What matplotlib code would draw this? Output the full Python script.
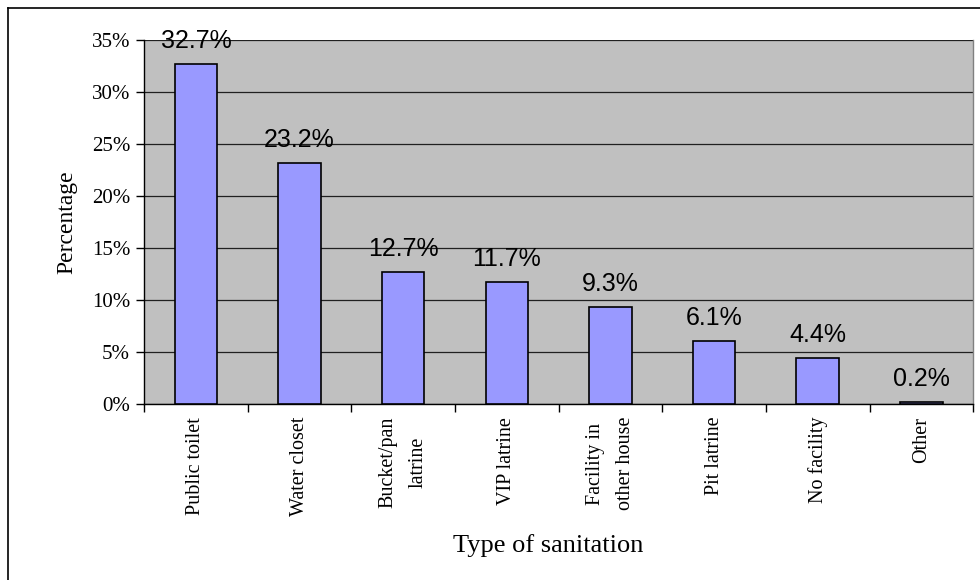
import matplotlib.pyplot as plt
from matplotlib.ticker import FuncFormatter, FixedLocator
from matplotlib.lines import Line2D

# dados
categorias = ['Public toilet', 'Water closet', 'Bucket/pan\nlatrine', 'VIP latrine',
              'Facility in\nother house', 'Pit latrine', 'No facility', 'Other']
percentuais = [32.7, 23.2, 12.7, 11.7, 9.3, 6.1, 4.4, 0.2]
rotulos = ['32.7%', '23.2%', '12.7%', '11.7%', '9.3%', '6.1%', '4.4%', '0.2%']
y_ticks = [0, 5, 10, 15, 20, 25, 30, 35]

serif = 'Liberation Serif'
sans = 'Liberation Sans'

fig = plt.figure(figsize=(9.8, 5.8), dpi=100)
ax = fig.add_axes([0.147, 0.303, 0.846, 0.628])
ax.set_facecolor('#C0C0C0')

x = range(len(categorias))
barras = ax.bar(x, percentuais, width=0.41, color='#9999FF', edgecolor='black',
                linewidth=1.2, zorder=3)

# rótulos de valor acima das barras
for b, txt in zip(barras, rotulos):
    ax.annotate(txt, (b.get_x() + b.get_width() / 2, b.get_height()),
                xytext=(0, 8), textcoords='offset points', ha='center', va='bottom',
                fontsize=18, family=sans, color='black', zorder=4, annotation_clip=False)

ax.set_xlim(-0.5, len(categorias) - 0.5)
ax.set_ylim(0, 35)

ax.set_yticks(y_ticks)
ax.yaxis.set_major_formatter(FuncFormatter(lambda v, p: f'{v:.0f}%'))
ax.grid(axis='y', color='#202020', linewidth=0.9, zorder=1)
ax.set_axisbelow(True)

ax.set_xticks(list(x))
ax.set_xticklabels(categorias, rotation=90, ha='center', va='top', multialignment='center',
                   fontsize=14.5, family=serif, linespacing=1.8)
ax.tick_params(axis='x', which='major', length=0, pad=9)
ax.xaxis.set_minor_locator(FixedLocator([i - 0.5 for i in range(len(categorias) + 1)]))
ax.tick_params(axis='x', which='minor', length=6, direction='out', color='black', width=1)
ax.tick_params(axis='y', length=6, direction='out', color='black', width=1, pad=4)
for lbl in ax.get_yticklabels():
    lbl.set_family(serif)
    lbl.set_fontsize(15)

for lado in ['left', 'bottom']:
    ax.spines[lado].set_color('black')
    ax.spines[lado].set_linewidth(1)
ax.spines['top'].set_visible(False)
ax.spines['right'].set_color('#808080')
ax.spines['right'].set_linewidth(1)

ax.set_ylabel('Percentage', fontsize=17, family=serif, labelpad=10)
ax.set_xlabel('Type of sanitation', fontsize=19, family=serif)
ax.xaxis.set_label_coords(0.487, -0.387)
ax.xaxis.label.set_va('center')

# moldura (só topo e esquerda aparecem na imagem)
fig.add_artist(Line2D([8 / 980, 1], [1 - 8 / 580, 1 - 8 / 580], color='black', linewidth=1.2))
fig.add_artist(Line2D([8 / 980, 8 / 980], [0, 1 - 8 / 580], color='black', linewidth=1.2))

fig.savefig('out.png', dpi=100, facecolor='white')
